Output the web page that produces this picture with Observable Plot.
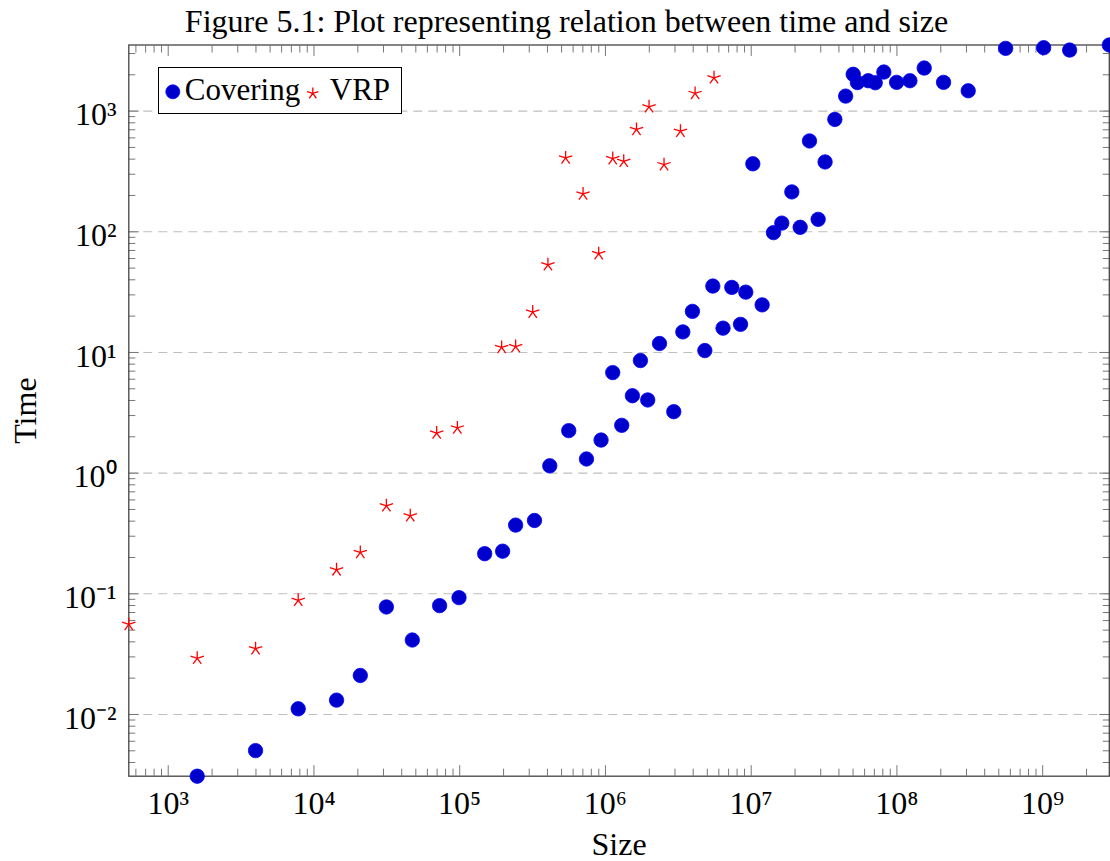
<!DOCTYPE html>
<html>
<head>
<meta charset="utf-8">
<script src="https://cdn.jsdelivr.net/npm/d3@7"></script>
<script src="https://cdn.jsdelivr.net/npm/@observablehq/plot@0.6"></script>
<style>
  body { margin: 0; background: #fff; }
  #wrap { position: relative; width: 1110px; height: 861px; font-family: "Liberation Serif", "Times New Roman", serif; color: #000; }
  #title { height: 40px; line-height: 42px; font-size: 32px; text-align: center; padding-left: 23px; box-sizing: border-box; white-space: nowrap; }
  #legend { position: absolute; left: 158.3px; top: 66.7px; width: 243.4px; height: 47.3px; box-sizing: border-box; border: 1.2px solid #000; background: #fff; font-size: 31px; }
  #legend span { position: absolute; top: 0; line-height: 44.7px; white-space: nowrap; }
  #legend svg { position: absolute; left: 0; top: 0; overflow: visible; }
  #chart svg text { font-family: "Liberation Serif", "Times New Roman", serif; }
</style>
</head>
<body>
<div id="wrap">
  <div id="title">Figure 5.1: Plot representing relation between time and size</div>
  <div id="chart"></div>
  <div id="legend"></div>
</div>
<script>
// ---- data ----
const seriesNames = ["Covering", "VRP"];

const covSize = [1581, 3974, 7797, 14290, 20800, 31400, 47300, 72800, 98900, 148400,
  197000, 242000, 326000, 415000, 560000, 741000, 933000, 1122000, 1294000, 1531000,
  1738000, 1950000, 2349000, 2943000, 3396000, 3952000, 4808000, 5455000, 6410000, 7362000,
  8451000, 9183000, 10260000, 11890000, 14220000, 16220000, 19000000, 21680000, 25120000, 28800000,
  32140000, 37500000, 44470000, 50120000, 53560000, 63540000, 70970000, 81300000, 99500000, 122800000,
  153900000, 208900000, 308400000, 557000000, 1016000000, 1531000000, 2865000000];
const covTime = [0.00308, 0.00502, 0.01114, 0.01315, 0.02105, 0.0778, 0.0414, 0.0798, 0.0929, 0.215,
  0.2255, 0.371, 0.405, 1.15, 2.25, 1.31, 1.88, 6.81, 2.49, 4.38,
  8.57, 4.04, 11.86, 3.23, 14.8, 21.9, 10.37, 35.5, 15.9, 34.6,
  17.1, 31.6, 366, 24.8, 98.4, 118, 214, 108.9, 566, 126.8,
  379, 853, 1332, 2018, 1725, 1786, 1718, 2108, 1731, 1786,
  2275, 1731, 1474, 3313, 3351, 3206, 3531];

const vrpSize = [536.5, 1581, 3974, 7797, 14290, 20800, 31400, 45800, 69500, 96400,
  194000, 242000, 317000, 403000, 533000, 702000, 899000, 1122000, 1335000, 1633000,
  1991000, 2523000, 3271000, 4122000, 5559000];
const vrpTime = [0.0558, 0.0292, 0.0351, 0.0883, 0.158, 0.220, 0.536, 0.443, 2.15, 2.37,
  11.0, 11.2, 21.6, 53.3, 409, 205.7, 65.9, 404, 384, 705,
  1086, 360, 682, 1402, 1889];

const majorX = [1e3, 1e4, 1e5, 1e6, 1e7, 1e8, 1e9];
const majorY = [1e-2, 1e-1, 1e0, 1e1, 1e2, 1e3];
const xLabel = "Size";
const yLabel = "Time";

// ---- derived tables ----
const covering = covSize.map((s, i) => ({size: s, time: covTime[i]}));
const vrp = vrpSize.map((s, i) => ({size: s, time: vrpTime[i]}));
const xDomain = d3.extent([...covSize, ...vrpSize]);
const yDomain = d3.extent([...covTime, ...vrpTime]);

function minorTicks(domain) {
  const out = [];
  const e0 = Math.floor(Math.log10(domain[0])), e1 = Math.ceil(Math.log10(domain[1]));
  for (let e = e0; e <= e1; e++) for (let m = 2; m <= 9; m++) {
    const v = +(m * Math.pow(10, e)).toPrecision(6);
    if (v >= domain[0] && v <= domain[1]) out.push(v);
  }
  return out;
}
const minorX = minorTicks(xDomain);
const minorY = minorTicks(yDomain);

const supMap = {"0":"⁰","1":"¹","2":"²","3":"³","4":"⁴","5":"⁵","6":"⁶","7":"⁷","8":"⁸","9":"⁹","-":"⁻"};
const sup = d => "10" + String(Math.round(Math.log10(d))).replace(/./g, c => supMap[c]);

// five-spoke star (pgfplots "star")
const star5 = {
  draw(ctx, size) {
    const r = Math.sqrt(size / Math.PI);
    for (let k = 0; k < 5; k++) {
      const a = -Math.PI / 2 + k * 2 * Math.PI / 5;
      ctx.moveTo(0, 0);
      ctx.lineTo(r * Math.cos(a), r * Math.sin(a));
    }
  }
};

const serif = '"Liberation Serif", "Times New Roman", serif';
const tickColor = "#777";
function inTicks(anchor, values, len) {
  const o = {anchor, ticks: values, tickSize: len, fill: "none", stroke: tickColor, strokeWidth: 1, label: null};
  if (anchor === "bottom") o.dy = -len;
  if (anchor === "top") o.dy = len;
  if (anchor === "left") o.dx = len;
  if (anchor === "right") o.dx = -len;
  return (anchor === "top" || anchor === "bottom") ? Plot.axisX(o) : Plot.axisY(o);
}

const covFill = "#0000cc", covStroke = "#0000ff", vrpStroke = "#ff0000";

const chart = Plot.plot({
  width: 1110,
  height: 821,
  marginTop: 4.5,
  marginBottom: 85.3,
  marginLeft: 128.3,
  marginRight: 1.2,
  style: {fontFamily: serif, fontSize: "32px", background: "transparent", overflow: "visible", color: "#000"},
  x: {type: "log", domain: xDomain},
  y: {type: "log", domain: yDomain},
  marks: [
    Plot.ruleY(majorY, {stroke: "#bfbfbf", strokeWidth: 1.1, strokeDasharray: "9,6"}),
    inTicks("bottom", minorX, 7), inTicks("bottom", majorX, 10.5),
    inTicks("top", minorX, 7), inTicks("top", majorX, 10.5),
    inTicks("left", minorY, 7), inTicks("left", majorY, 10.5),
    inTicks("right", minorY, 7), inTicks("right", majorY, 10.5),
    Plot.frame({stroke: "#444", strokeWidth: 1.3}),
    Plot.axisX({anchor: "bottom", ticks: majorX, tickSize: 0, tickPadding: 14.6, tickFormat: sup, fontSize: 32, fontFamily: serif, fontVariant: "normal", label: null}),
    Plot.axisY({anchor: "left", ticks: majorY, tickSize: 0, tickPadding: 12.3, tickFormat: sup, fontSize: 32, fontFamily: serif, fontVariant: "normal", dy: 4, label: null}),
    Plot.text([xLabel], {frameAnchor: "bottom", lineAnchor: "middle", textAnchor: "middle", dy: 69, text: d => d, fontSize: 32, fontFamily: serif}),
    Plot.text([yLabel], {frameAnchor: "left", lineAnchor: "middle", textAnchor: "middle", dx: -102.8, rotate: -90, text: d => d, fontSize: 32, fontFamily: serif}),
    Plot.dot(covering, {x: "size", y: "time", r: 7.2, fill: covFill, stroke: covStroke, strokeWidth: 0.8}),
    Plot.dot(vrp, {x: "size", y: "time", r: 7, symbol: star5, fill: "none", stroke: vrpStroke, strokeWidth: 1.3})
  ]
});
document.getElementById("chart").appendChild(chart);

// ---- legend ----
const lg = d3.select("#legend");
const lsvg = lg.append("svg").attr("width", 241).attr("height", 45);
lsvg.append("circle").attr("cx", 13.8).attr("cy", 23.8).attr("r", 7)
  .attr("fill", covFill).attr("stroke", covStroke).attr("stroke-width", 0.8);
lsvg.append("path").attr("transform", "translate(153.8,25.4)")
  .attr("d", d3.symbol(star5, Math.PI * 6 * 6)())
  .attr("fill", "none").attr("stroke", vrpStroke).attr("stroke-width", 1.3);
lg.append("span").style("left", "25.5px").text(seriesNames[0]);
lg.append("span").style("left", "170.5px").text(seriesNames[1]);
</script>
</body>
</html>
